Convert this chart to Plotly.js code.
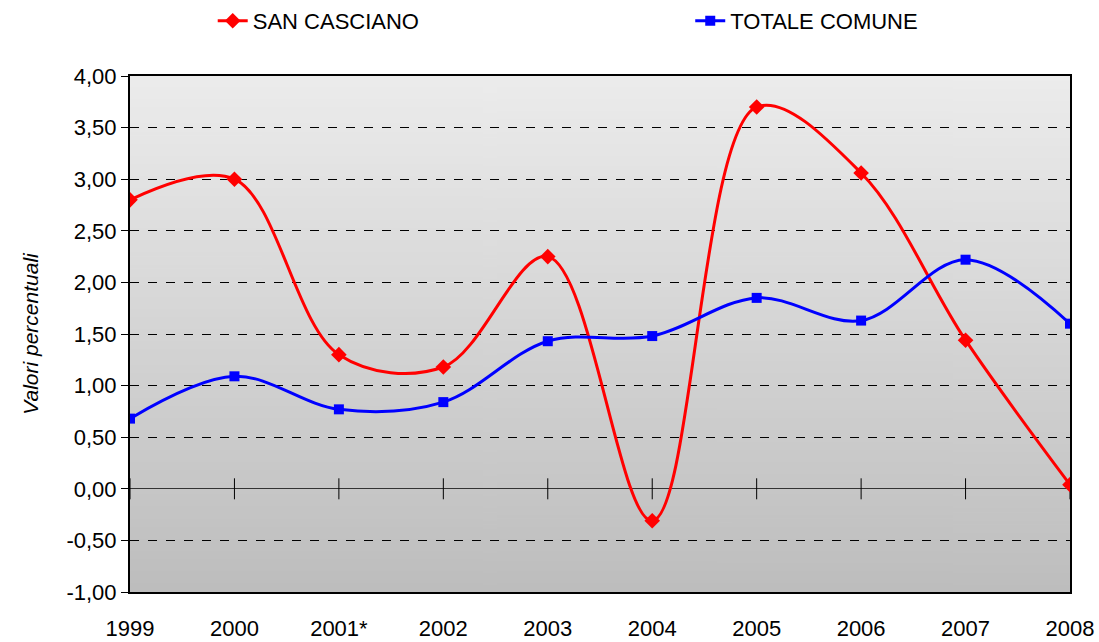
<!DOCTYPE html>
<html>
<head>
<meta charset="utf-8">
<script src="https://cdn.plot.ly/plotly-3.0.1.min.js"></script>
<style>
  body { margin: 0; background: #fff; }
  #chart { width: 1099px; height: 642px; }
</style>
</head>
<body>
<div id="chart"></div>
<script>
const years = ['1999', '2000', '2001*', '2002', '2003', '2004', '2005', '2006', '2007', '2008'];
const sanCasciano = [2.80, 3.00, 1.30, 1.18, 2.25, -0.31, 3.70, 3.06, 1.44, 0.04];
const totaleComune = [0.68, 1.09, 0.77, 0.84, 1.43, 1.48, 1.85, 1.63, 2.22, 1.60];
const yTickVals = [-1, -0.5, 0, 0.5, 1, 1.5, 2, 2.5, 3, 3.5, 4];
const yTickText = ['-1,00', '-0,50', '0,00', '0,50', '1,00', '1,50', '2,00', '2,50', '3,00', '3,50', '4,00'];
const zeroTicks = years.map(() => 0);

// gradient background for the plot area
const cv = document.createElement('canvas');
cv.width = 4;
cv.height = 256;
const ctx = cv.getContext('2d');
const grad = ctx.createLinearGradient(0, 0, 0, 256);
grad.addColorStop(0, '#ececec');
grad.addColorStop(1, '#bdbdbd');
ctx.fillStyle = grad;
ctx.fillRect(0, 0, 4, 256);
const bgUrl = cv.toDataURL();

const font = 'Liberation Sans, Arial, sans-serif';

const traces = [
  {
    x: years, y: zeroTicks, type: 'scatter', mode: 'markers',
    marker: { symbol: 'line-ns-open', size: 15, color: '#000', line: { color: '#000', width: 1 } },
    showlegend: false, hoverinfo: 'skip'
  },
  {
    name: 'SAN CASCIANO', x: years, y: sanCasciano, type: 'scatter', mode: 'lines+markers',
    line: { color: '#ff0000', width: 3, shape: 'spline', smoothing: 1 },
    marker: { symbol: 'diamond', size: 12, color: '#ff0000' },
    legend: 'legend'
  },
  {
    name: 'TOTALE COMUNE', x: years, y: totaleComune, type: 'scatter', mode: 'lines+markers',
    line: { color: '#0000ff', width: 3, shape: 'spline', smoothing: 1 },
    marker: { symbol: 'square', size: 10, color: '#0000ff' },
    legend: 'legend2'
  }
];

const legendBase = {
  orientation: 'h', y: 1.0, xanchor: 'left', yanchor: 'top', yref: 'container',
  font: { size: 22 }, bgcolor: 'rgba(0,0,0,0)'
};

const layout = {
  width: 1099, height: 642,
  margin: { l: 130, r: 29, t: 76, b: 50 },
  paper_bgcolor: '#fff',
  plot_bgcolor: 'rgba(0,0,0,0)',
  font: { family: font, size: 22, color: '#000' },
  images: [{
    source: bgUrl, xref: 'paper', yref: 'paper', x: 0, y: 1, sizex: 1, sizey: 1,
    sizing: 'stretch', xanchor: 'left', yanchor: 'top', layer: 'below'
  }],
  xaxis: {
    type: 'category', range: [0, 9],
    showgrid: false, showline: true, linecolor: '#000', linewidth: 2, mirror: true,
    ticks: 'outside', ticklen: 16, tickcolor: 'rgba(0,0,0,0)',
    tickfont: { size: 22 }, zeroline: false, fixedrange: true
  },
  yaxis: {
    range: [-1, 4], tickvals: yTickVals, ticktext: yTickText,
    showgrid: true, gridcolor: '#000', griddash: 'dash', gridwidth: 1,
    zeroline: true, zerolinecolor: '#333', zerolinewidth: 1,
    showline: true, linecolor: '#000', linewidth: 2, mirror: true,
    ticks: 'outside', ticklen: 7, tickcolor: '#000',
    tickfont: { size: 22 },
    title: { text: '<i>Valori percentuali</i>', font: { size: 21 }, standoff: 22 },
    fixedrange: true
  },
  legend: Object.assign({}, legendBase, { x: 0.088 }),
  legend2: Object.assign({}, legendBase, { x: 0.596 }),
  showlegend: true
};

Plotly.newPlot('chart', traces, layout, { displayModeBar: false, staticPlot: true });
</script>
</body>
</html>
